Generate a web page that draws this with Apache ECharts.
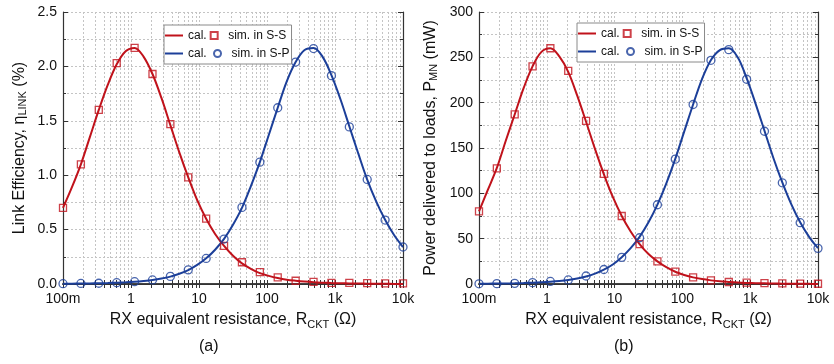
<!DOCTYPE html>
<html>
<head>
<meta charset="utf-8">
<script src="https://cdn.jsdelivr.net/npm/echarts@6/dist/echarts.min.js"></script>
<style>
html,body{margin:0;padding:0;background:#fff;}
#c{width:834px;height:364px;}
</style>
</head>
<body>
<div id="c"></div>
<script>
// ---------- data ----------
var simR = [0.1, 0.1833, 0.336, 0.616, 1.129, 2.07, 3.793, 6.952, 12.74, 23.36, 42.81, 78.48, 143.8, 263.7, 483.3, 885.9, 1624, 2976, 5456, 10000];
var calR = [0.1, 0.1354, 0.1833, 0.2482, 0.336, 0.455, 0.616, 0.834, 1.129, 1.529, 2.07, 2.803, 3.793, 5.136, 6.952, 9.412, 12.74, 17.25, 23.36, 31.62, 42.81, 57.96, 78.48, 106.2, 143.8, 194.7, 263.7, 357, 483.3, 654.3, 885.9, 1199, 1624, 2198, 2976, 4030, 5456, 7386, 10000];

// (a) link efficiency (%)
var effCalSS = [0.70, 0.89, 1.10, 1.35, 1.60, 1.83, 2.02, 2.14, 2.17, 2.09, 1.93, 1.71, 1.46, 1.21, 0.98, 0.77, 0.60, 0.46, 0.35, 0.26, 0.19, 0.14, 0.10, 0.075, 0.055, 0.04, 0.03, 0.022, 0.016, 0.012, 0.009, 0.007, 0.005, 0.004, 0.003, 0.002, 0.0015, 0.001, 0.001];
var effCalSP = [0.002, 0.003, 0.004, 0.005, 0.007, 0.009, 0.012, 0.016, 0.021, 0.028, 0.037, 0.05, 0.068, 0.094, 0.128, 0.175, 0.236, 0.315, 0.415, 0.545, 0.70, 0.90, 1.12, 1.37, 1.62, 1.86, 2.04, 2.15, 2.17, 2.09, 1.92, 1.70, 1.45, 1.20, 0.96, 0.76, 0.59, 0.45, 0.34];
var effSimSS = [0.70, 1.10, 1.60, 2.03, 2.17, 1.93, 1.47, 0.98, 0.60, 0.35, 0.20, 0.11, 0.06, 0.03, 0.02, 0.01, 0.01, 0.008, 0.006, 0.005];
var effSimSP = [0.003, 0.005, 0.007, 0.012, 0.021, 0.037, 0.07, 0.13, 0.235, 0.413, 0.704, 1.12, 1.62, 2.04, 2.164, 1.915, 1.444, 0.961, 0.588, 0.34];

// (b) power delivered to loads (mW)
var pwrCalSS = [80, 104, 128, 158, 187, 216, 240, 256, 260, 251, 234, 208, 179, 149, 121, 96, 75, 58, 44, 33, 25, 18.5, 13.5, 10, 7.3, 5.4, 4.0, 2.9, 2.2, 1.6, 1.2, 0.9, 0.7, 0.5, 0.4, 0.3, 0.2, 0.15, 0.1];
var pwrCalSP = [0.3, 0.4, 0.5, 0.6, 0.8, 1.1, 1.5, 2.0, 2.6, 3.4, 4.5, 6.1, 8.3, 11.4, 15.8, 21.5, 29.5, 39.5, 52, 68, 87.5, 111, 138, 168, 198, 226, 247, 258, 260, 250, 227, 199, 169, 139, 112, 88, 68, 52, 39.5];
var pwrSimSS = [80, 127.5, 187, 240, 260, 235, 180, 121.5, 75, 44, 25, 13.6, 7.3, 4, 2.2, 1.5, 1, 0.6, 0.4, 0.3];
var pwrSimSP = [0.2, 0.4, 0.7, 1.5, 2.8, 4.5, 8.8, 16, 29.4, 51, 87.4, 137.7, 198, 246.7, 258.5, 225.8, 168.5, 111.6, 67.6, 39.3];

var xTickValues = [0.1, 1, 10, 100, 1000, 10000];
var xTickLabels = ['100m', '1', '10', '100', '1k', '10k'];
var legendNames = ['cal.', 'sim. in S-S', 'cal. ', 'sim. in S-P'];

// ---------- styling ----------
var RED = '#c0121b', BLUE = '#1c3f99';
var FONT = 'Liberation Sans, Arial, sans-serif';
var minorVals = [];
for (var d = -1; d < 4; d++) {
  for (var m = 1; m < 10; m++) minorVals.push(+(m * Math.pow(10, d)).toPrecision(3));
}
minorVals.push(10000);

function pairs(xs, ys) { return xs.map(function (x, i) { return [x, ys[i]]; }); }
function xLabel(v) {
  var best = 0;
  for (var i = 0; i < xTickValues.length; i++) {
    if (Math.abs(Math.log10(v) - Math.log10(xTickValues[i])) < Math.abs(Math.log10(v) - Math.log10(xTickValues[best]))) best = i;
  }
  return xTickLabels[best];
}
var gridLine = { show: true, lineStyle: { color: '#c4c4c4', type: [2, 2], width: 1 } };
var axisLineStyle = { show: true, lineStyle: { color: '#333', width: 1.2 } };

function xAxes(gi) {
  return [{
    type: 'log', gridIndex: gi, position: 'bottom', min: 0.1, max: 10000, logBase: 10,
    axisLine: { show: true, onZero: false, lineStyle: { color: '#444', width: 2 } },
    axisTick: { show: true, inside: true, length: 4, customValues: minorVals, lineStyle: { color: '#333' } },
    axisLabel: { show: true, customValues: xTickValues, formatter: xLabel, fontFamily: FONT, fontSize: 14, color: '#111', margin: 8 },
    splitLine: gridLine,
    name: 'RX equivalent resistance, R{sub|CKT} (Ω)', nameLocation: 'middle', nameGap: 26,
    nameTextStyle: { fontFamily: FONT, fontSize: 16, color: '#111', verticalAlign: 'top',
      rich: { sub: { fontFamily: FONT, fontSize: 11, color: '#111', padding: [9, 0, 0, 0] } } }
  }, {
    type: 'log', gridIndex: gi, position: 'top', min: 0.1, max: 10000, logBase: 10,
    axisLine: axisLineStyle,
    axisTick: { show: true, inside: true, length: 4, customValues: minorVals, lineStyle: { color: '#333' } },
    axisLabel: { show: false }, splitLine: { show: false }
  }];
}
function yAxes(gi, max, interval, dec, name, nameGap) {
  return [{
    type: 'value', gridIndex: gi, position: 'left', min: 0, max: max, interval: interval,
    axisLine: axisLineStyle,
    axisTick: { show: true, inside: true, length: 5, lineStyle: { color: '#333' } },
    minorTick: { show: true, splitNumber: 2, length: 3, lineStyle: { color: '#333' } },
    axisLabel: { formatter: function (v) { return v.toFixed(dec); }, fontFamily: FONT, fontSize: 14, color: '#111', margin: 6 },
    splitLine: gridLine, minorSplitLine: gridLine,
    name: name, nameLocation: 'middle', nameGap: nameGap,
    nameTextStyle: { fontFamily: FONT, fontSize: 16, color: '#111',
      rich: { sub: { fontFamily: FONT, fontSize: 11, color: '#111', padding: [0, 0, 0, 0], verticalAlign: 'bottom' } } }
  }, {
    type: 'value', gridIndex: gi, position: 'right', min: 0, max: max, interval: interval,
    axisLine: axisLineStyle,
    axisTick: { show: true, inside: true, length: 5, lineStyle: { color: '#333' } },
    minorTick: { show: true, splitNumber: 2, length: 3, lineStyle: { color: '#333' } },
    axisLabel: { show: false }, splitLine: { show: false }
  }];
}
function seriesFor(gi, calSS, calSP, simSS, simSP) {
  var xi = gi * 2, yi = gi * 2;
  return [
    { name: legendNames[0], type: 'line', xAxisIndex: xi, yAxisIndex: yi, data: pairs(calR, calSS), smooth: 0.35, symbol: 'none', lineStyle: { color: RED, width: 2 }, itemStyle: { color: RED }, z: 2 },
    { name: legendNames[2], type: 'line', xAxisIndex: xi, yAxisIndex: yi, data: pairs(calR, calSP), smooth: 0.35, symbol: 'none', lineStyle: { color: BLUE, width: 2 }, itemStyle: { color: BLUE }, z: 2 },
    { name: legendNames[1], type: 'scatter', xAxisIndex: xi, yAxisIndex: yi, data: pairs(simR, simSS), symbol: 'rect', symbolSize: 7, itemStyle: { color: 'rgba(255,255,255,0)', borderColor: RED, borderWidth: 1.3 }, z: 3 },
    { name: legendNames[3], type: 'scatter', xAxisIndex: xi, yAxisIndex: yi, data: pairs(simR, simSP), symbol: 'circle', symbolSize: 8, itemStyle: { color: 'rgba(255,255,255,0)', borderColor: BLUE, borderWidth: 1.3 }, z: 3 }
  ];
}
var SQUARE = 'path://M0,0L10,0L10,10L0,10Z';
var BAR = 'path://M0,0L18,0L18,2L0,2Z';
function legendAt(left, top) {
  return {
    left: left, top: top, width: 132, orient: 'horizontal', itemWidth: 18, itemHeight: 7, itemGap: 3,
    symbolKeepAspect: true,
    data: [
      { name: legendNames[0], icon: BAR },
      { name: legendNames[1], icon: SQUARE },
      { name: legendNames[2], icon: BAR },
      { name: legendNames[3], icon: 'circle' }
    ],
    backgroundColor: '#fff', borderColor: '#8a8a8a', borderWidth: 1, borderRadius: 0, padding: [3, 2, 3, 1],
    textStyle: { fontFamily: FONT, fontSize: 12, color: '#111', lineHeight: 15 },
    selectedMode: false
  };
}

var chart = echarts.init(document.getElementById('c'), null, { renderer: 'canvas' });
chart.setOption({
  backgroundColor: '#fff',
  animation: false,
  grid: [
    { left: 63, right: 431, top: 12, bottom: 80, containLabel: false },
    { left: 479, right: 16, top: 12, bottom: 80, containLabel: false }
  ],
  legend: [legendAt(164, 25), legendAt(577, 23)],
  xAxis: xAxes(0).concat(xAxes(1)),
  yAxis: yAxes(0, 2.5, 0.5, 1, 'Link Efficiency, η{sub|LINK} (%)', 35).concat(yAxes(1, 300, 50, 0, 'Power delivered to loads, P{sub|MN} (mW)', 40)),
  series: seriesFor(0, effCalSS, effCalSP, effSimSS, effSimSP).concat(seriesFor(1, pwrCalSS, pwrCalSP, pwrSimSS, pwrSimSP)),
  graphic: [
    { type: 'text', left: 199, top: 339, style: { text: '(a)', font: '16px ' + FONT, fill: '#111' } },
    { type: 'text', left: 614, top: 339, style: { text: '(b)', font: '16px ' + FONT, fill: '#111' } }
  ]
});
</script>
</body>
</html>
